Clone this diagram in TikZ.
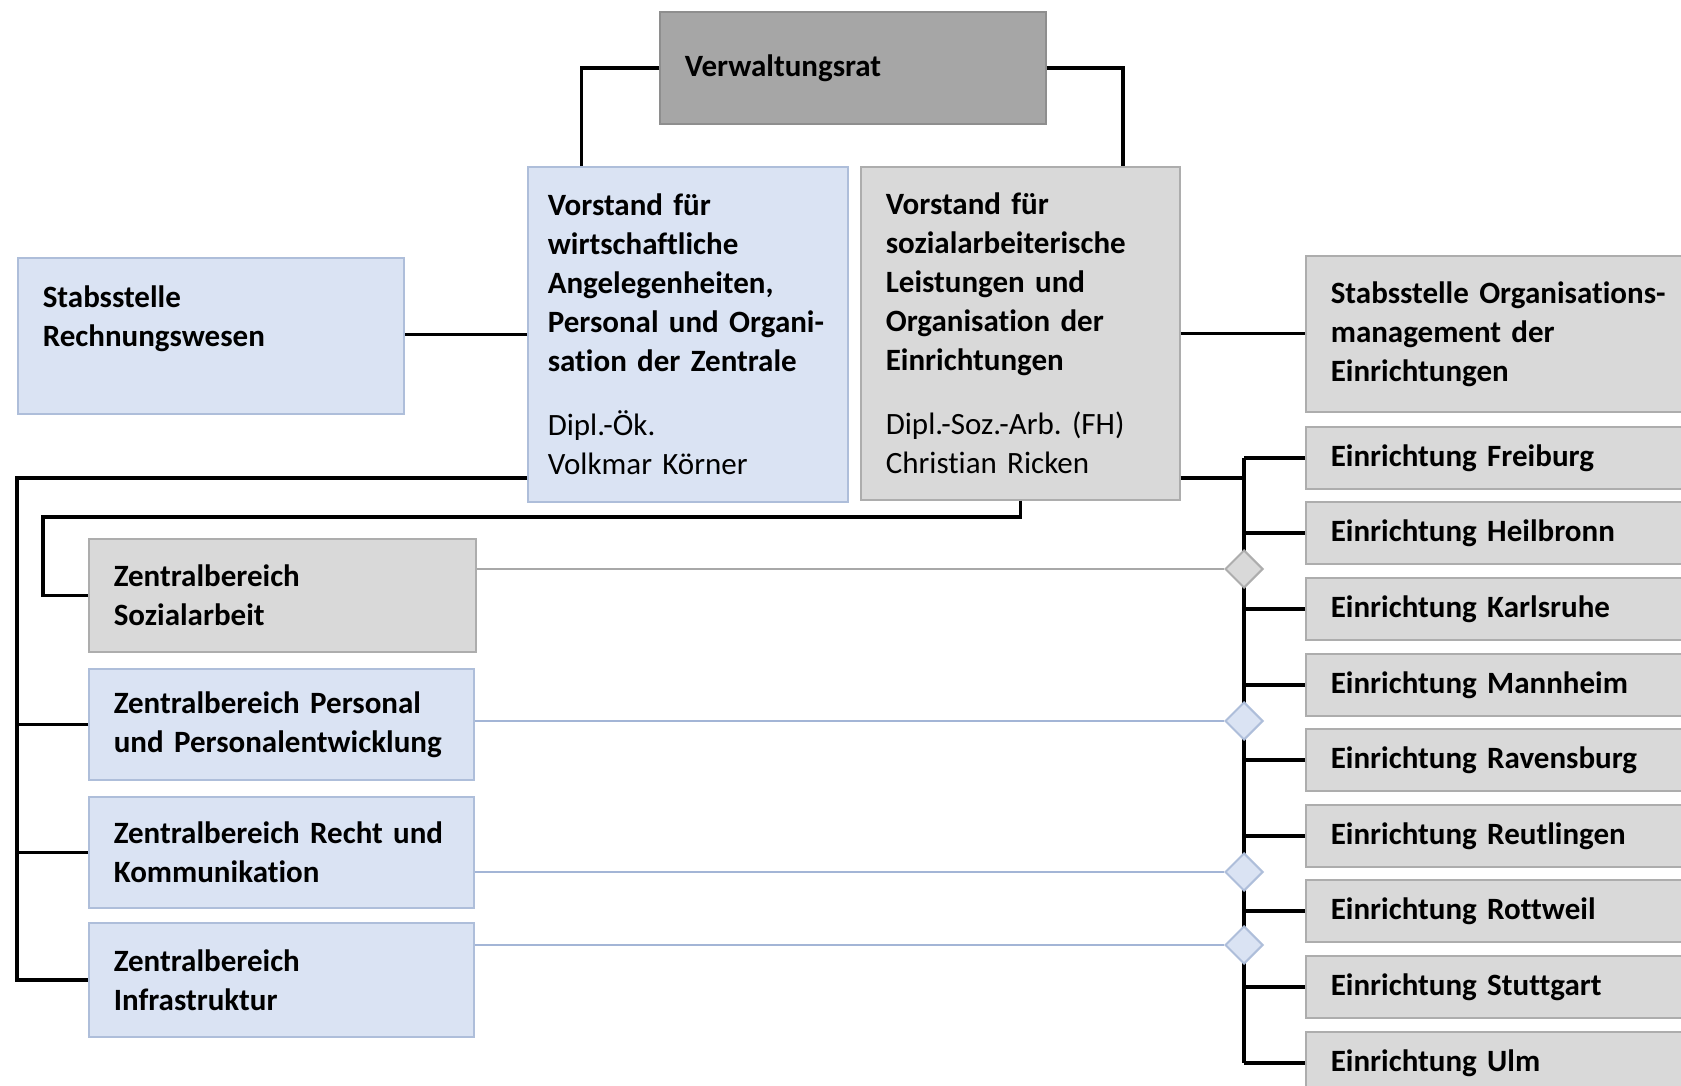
\documentclass[tikz,border=0pt]{standalone}
\usepackage{fontspec}
\setmainfont{Carlito}[Ligatures=NoCommon]
\usepackage{xcolor}
\usepackage{tikz}
\usetikzlibrary{backgrounds,calc,shapes.geometric}

\definecolor{bluefill}{HTML}{DAE3F3}
\definecolor{blueedge}{HTML}{AEBEDA}
\definecolor{grayfill}{HTML}{D9D9D9}
\definecolor{grayedge}{HTML}{ADADAD}
\definecolor{darkfill}{HTML}{A6A6A6}
\definecolor{darkedge}{HTML}{8E8E8E}
\definecolor{bluelink}{HTML}{A3B5D6}
\definecolor{graylink}{HTML}{A8A8A8}

\frenchspacing

\begin{document}
\begin{tikzpicture}[x=0.5pt,y=-0.5pt]

\useasboundingbox (0,0) rectangle (1681,1086);
\fill[white] (0,0) rectangle (1681,1086);

\tikzstyle{orgbox} = [rectangle, anchor=north west, align=left, inner xsep=12.5pt, inner ysep=2pt, line width=0.8pt, font=\fontsize{15.5}{19.5}\selectfont\bfseries]
\tikzstyle{bluebox} = [orgbox, draw=blueedge, fill=bluefill]
\tikzstyle{graybox} = [orgbox, draw=grayedge, fill=grayfill]
\tikzstyle{einbox} = [graybox, text width=172.5pt, minimum height=31pt]
\tikzstyle{line} = [black, line width=1.8pt]
\tikzstyle{dia} = [diamond, minimum width=19pt, minimum height=19pt, inner sep=0pt, line width=1pt]

% top level
\node (verw) [orgbox, draw=darkedge, fill=darkfill, text width=168pt, minimum height=56pt] at (659,11) {Verwaltungsrat};
\node (vor1) [bluebox, text width=140pt, inner xsep=10pt, minimum height=167.5pt] at (527,166) {Vorstand für\\wirtschaftliche\\Angelegenheiten,\\Personal und Organi-\\sation der Zentrale\\[12.5pt]\mdseries Dipl.-Ök.\\Volkmar Körner};
\node (vor2) [graybox, text width=134.5pt, minimum height=166.5pt] at (860,166) {Vorstand für\\sozialarbeiterische\\Leistungen und\\Organisation der\\Einrichtungen\\[12.5pt]\mdseries Dipl.-Soz.-Arb. (FH)\\Christian Ricken};

\node (rech) [bluebox, text width=168pt, minimum height=78pt] at (17,257) {Stabsstelle\\Rechnungswesen\\\mbox{}};
\node (orga) [graybox, text width=172.5pt, minimum height=78pt] at (1305,255) {Stabsstelle Organisations-\\management der\\Einrichtungen};

% Zentralbereiche
\node (sozial) [graybox, text width=168.5pt, minimum height=56.5pt] at (88,538) {Zentralbereich\\Sozialarbeit};
\node (pers) [bluebox, text width=167.5pt, minimum height=55.5pt] at (88,668) {Zentralbereich Personal\\und Personalentwicklung};
\node (recht) [bluebox, text width=167.5pt, minimum height=55.5pt] at (88,796) {Zentralbereich Recht und\\Kommunikation};
\node (infra) [bluebox, text width=167.5pt, minimum height=57pt] at (88,922) {Zentralbereich\\Infrastruktur};

% Einrichtungen
\node (e1) [einbox] at (1305,426) {Einrichtung Freiburg};
\node (e2) [einbox] at (1305,501) {Einrichtung Heilbronn};
\node (e3) [einbox] at (1305,577) {Einrichtung Karlsruhe};
\node (e4) [einbox] at (1305,653) {Einrichtung Mannheim};
\node (e5) [einbox] at (1305,728) {Einrichtung Ravensburg};
\node (e6) [einbox] at (1305,804) {Einrichtung Reutlingen};
\node (e7) [einbox] at (1305,879) {Einrichtung Rottweil};
\node (e8) [einbox] at (1305,955) {Einrichtung Stuttgart};
\node (e9) [einbox] at (1305,1031) {Einrichtung Ulm};

\coordinate (lbus) at (17,478);
\coordinate (sbend) at (43,517);
\coordinate (rbus) at (1244,478);

\draw[line] (verw.west) -| ($(vor1.north west)!0.17!(vor1.north east)$);
\draw[line] (verw.east) -| ($(vor2.north west)!0.82!(vor2.north east)$);
\draw[line] (vor1.west) -- (vor1.west -| rech.east);
\draw[line] (vor2.east) -- (vor2.east -| orga.west);

\draw[line] (lbus -| vor1.west) -- (lbus) |- (infra.west);
\draw[line] (pers.west) -- (pers.west -| lbus);
\draw[line] (recht.west) -- (recht.west -| lbus);
\draw[line] (vor2.south) |- (sbend) |- (sozial.west);

\draw[line] (rbus -| vor2.east) -- (rbus);
\draw[line] (e1.west -| rbus) -- (e9.west -| rbus);
\draw[line] (e1.west) -- (e1.west -| rbus);
\draw[line] (e2.west) -- (e2.west -| rbus);
\draw[line] (e3.west) -- (e3.west -| rbus);
\draw[line] (e4.west) -- (e4.west -| rbus);
\draw[line] (e5.west) -- (e5.west -| rbus);
\draw[line] (e6.west) -- (e6.west -| rbus);
\draw[line] (e7.west) -- (e7.west -| rbus);
\draw[line] (e8.west) -- (e8.west -| rbus);
\draw[line] (e9.west) -- (e9.west -| rbus);

% Verbindungen zu den Einrichtungen
\node (d1) [dia, draw=grayedge, fill=grayfill] at (1244,569) {};
\node (d2) [dia, draw=blueedge, fill=bluefill] at (1244,721) {};
\node (d3) [dia, draw=blueedge, fill=bluefill] at (1244,872) {};
\node (d4) [dia, draw=blueedge, fill=bluefill] at (1244,945) {};

\draw[graylink, line width=1.3pt] (d1.west -| sozial.east) -- (d1.west);
\draw[bluelink, line width=1.3pt] (d2.west -| pers.east) -- (d2.west);
\draw[bluelink, line width=1.3pt] (d3.west -| recht.east) -- (d3.west);
\draw[bluelink, line width=1.3pt] (d4.west -| infra.east) -- (d4.west);

\end{tikzpicture}
\end{document}
